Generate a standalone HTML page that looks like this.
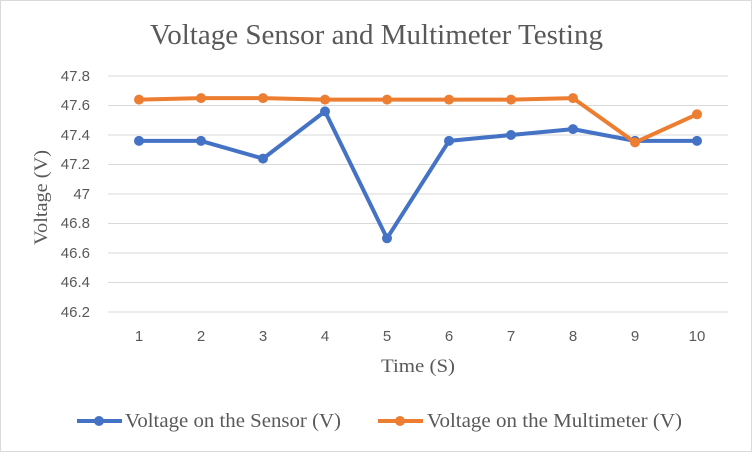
<!DOCTYPE html>
<html><head><meta charset="utf-8"><style>body{margin:0;background:#fff}</style></head>
<body>
<svg width="752" height="452" xmlns="http://www.w3.org/2000/svg" font-family="Liberation Serif, serif">
<rect x="0.5" y="0.5" width="751" height="451" fill="#fff" stroke="#d9d9d9"/>
<text x="150" y="44" font-size="28" fill="#595959" textLength="453" lengthAdjust="spacingAndGlyphs">Voltage  Sensor and Multimeter Testing</text>
<g stroke="#d9d9d9" stroke-width="1">
<line x1="108" x2="728" y1="76" y2="76"/><line x1="108" x2="728" y1="105.5" y2="105.5"/>
<line x1="108" x2="728" y1="135" y2="135"/><line x1="108" x2="728" y1="164.5" y2="164.5"/>
<line x1="108" x2="728" y1="194" y2="194"/><line x1="108" x2="728" y1="223.5" y2="223.5"/>
<line x1="108" x2="728" y1="253" y2="253"/><line x1="108" x2="728" y1="282.5" y2="282.5"/>
<line x1="108" x2="728" y1="312" y2="312"/>
</g>
<g font-size="15" fill="#595959" text-anchor="end" font-family="Liberation Sans, sans-serif">
<text x="90" y="81">47.8</text><text x="90" y="110">47.6</text><text x="90" y="140">47.4</text>
<text x="90" y="169">47.2</text><text x="90" y="199">47</text><text x="90" y="228">46.8</text>
<text x="90" y="258">46.6</text><text x="90" y="287">46.4</text><text x="90" y="317">46.2</text>
</g>
<g font-size="15" fill="#595959" text-anchor="middle" font-family="Liberation Sans, sans-serif">
<text x="139" y="341">1</text><text x="201" y="341">2</text><text x="263" y="341">3</text>
<text x="325" y="341">4</text><text x="387" y="341">5</text><text x="449" y="341">6</text>
<text x="511" y="341">7</text><text x="573" y="341">8</text><text x="635" y="341">9</text>
<text x="697" y="341">10</text>
</g>
<text x="381" y="372" font-size="19" fill="#595959" textLength="74" lengthAdjust="spacingAndGlyphs">Time (S)</text>
<text transform="translate(47,245) rotate(-90)" font-size="19" fill="#595959" textLength="95" lengthAdjust="spacingAndGlyphs">Voltage (V)</text>
<polyline fill="none" stroke="#4472c4" stroke-width="4" stroke-linejoin="round" points="139,140.9 201,140.9 263,158.6 325,111.4 387,238.3 449,140.9 511,135 573,129.1 635,140.9 697,140.9"/>
<g fill="#4472c4">
<circle cx="139" cy="140.9" r="5"/><circle cx="201" cy="140.9" r="5"/><circle cx="263" cy="158.6" r="5"/><circle cx="325" cy="111.4" r="5"/><circle cx="387" cy="238.3" r="5"/><circle cx="449" cy="140.9" r="5"/><circle cx="511" cy="135" r="5"/><circle cx="573" cy="129.1" r="5"/><circle cx="635" cy="140.9" r="5"/><circle cx="697" cy="140.9" r="5"/>
</g>
<polyline fill="none" stroke="#ed7d31" stroke-width="4" stroke-linejoin="round" points="139,99.6 201,98.1 263,98.1 325,99.6 387,99.6 449,99.6 511,99.6 573,98.1 635,142.4 697,114.3"/>
<g fill="#ed7d31">
<circle cx="139" cy="99.6" r="5"/><circle cx="201" cy="98.1" r="5"/><circle cx="263" cy="98.1" r="5"/><circle cx="325" cy="99.6" r="5"/><circle cx="387" cy="99.6" r="5"/><circle cx="449" cy="99.6" r="5"/><circle cx="511" cy="99.6" r="5"/><circle cx="573" cy="98.1" r="5"/><circle cx="635" cy="142.4" r="5"/><circle cx="697" cy="114.3" r="5"/>
</g>
<line x1="77" x2="122" y1="421" y2="421" stroke="#4472c4" stroke-width="4"/><circle cx="99" cy="421" r="5" fill="#4472c4"/>
<text x="125" y="427" font-size="20" fill="#595959" textLength="216" lengthAdjust="spacingAndGlyphs">Voltage on the Sensor (V)</text>
<line x1="378" x2="423" y1="421" y2="421" stroke="#ed7d31" stroke-width="4"/><circle cx="400" cy="421" r="5" fill="#ed7d31"/>
<text x="427" y="427" font-size="20" fill="#595959" textLength="255" lengthAdjust="spacingAndGlyphs">Voltage on the Multimeter (V)</text>
</svg>
</body></html>
